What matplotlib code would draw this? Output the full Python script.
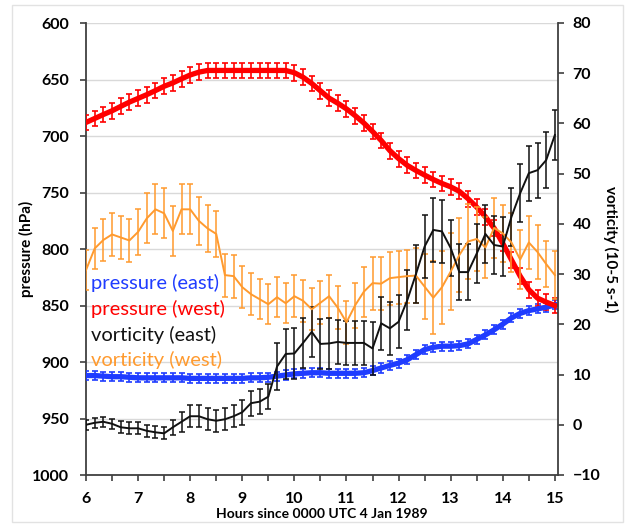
import matplotlib
matplotlib.use("Agg")
import matplotlib.pyplot as plt
from matplotlib.patches import Rectangle
import numpy as np

plt.rcParams['font.family'] = ['Lato', 'DejaVu Sans']

# time: every 10 minutes from 06 to 15 UTC
hours = [6 + i / 6 for i in range(55)]

pressure_east = [912, 912, 912.5, 913, 913, 913.5, 914, 914, 914, 914, 914, 914, 914.5, 914.5,
                 914.5, 914.5, 914.5, 914.5, 914.5, 914, 914, 913.5, 912.5, 911.5, 910.5, 910,
                 909.5, 909.5, 910, 910, 910, 910, 909.5, 907.6, 905.3, 903, 901, 898, 893.5,
                 889, 887, 886, 886, 885.5, 884, 880, 876, 871.5, 866.5, 861, 857, 854.5, 853,
                 851.5, 849.5]
pressure_east_err = [4] * 55

pressure_west = [688, 684.5, 681, 677.7, 673.8, 670, 666.7, 663.4, 659.8, 656, 653, 649.4, 646,
                 643.5, 642, 642, 642, 642, 642, 642, 642, 642, 642, 642, 644, 648, 653.5, 660,
                 666.5, 671, 676, 682, 688.5, 696, 704, 713, 720, 726, 730.5, 734.6, 738.5, 742,
                 745, 749, 755.5, 763, 771.5, 781.5, 795, 809.6, 824, 836, 843.5, 847, 850]
pressure_west_err = [7] * 55

vort_east = [0.0, 0.4, 0.6, 0.2, -0.5, -0.7, -0.7, -1.2, -1.5, -1.7, -0.5, 0.6, 1.7, 1.7, 1.1,
             0.8, 1.1, 1.7, 2.5, 4.3, 4.6, 5.6, 11.6, 14.1, 14.2, 16.3, 18.5, 16.1, 16.2, 16.5,
             16.3, 16.3, 16.3, 15.2, 20.2, 19.2, 20.5, 24.8, 30.0, 35.5, 38.8, 38.5, 35.2, 30.4,
             30.4, 34.1, 38.0, 35.8, 35.5, 41.4, 46.1, 50.1, 50.7, 52.7, 57.7]
vort_east_err = [1.0, 1.0, 1.0, 1.0, 1.2, 1.2, 1.2, 1.2, 1.2, 1.2, 1.5, 2.0, 2.2, 2.2, 2.2, 2.2,
                 2.2, 2.2, 2.5, 2.5, 2.5, 2.5, 4.6, 5.0, 5.0, 5.0, 5.0, 5.0, 5.0, 4.3, 4.3, 4.3,
                 4.3, 5.3, 5.3, 5.3, 5.3, 6.0, 5.8, 6.3, 6.3, 6.3, 5.5, 5.5, 5.5, 5.8, 5.8, 5.8,
                 5.8, 5.8, 5.8, 5.5, 5.5, 5.5, 5.0]

vort_west = [30.8, 35.1, 36.8, 37.9, 37.3, 36.7, 38.4, 41.1, 42.9, 42.1, 38.6, 42.9, 42.9, 40.6,
             39.1, 38.0, 29.8, 29.6, 27.4, 26.0, 25.0, 24.0, 25.4, 24.2, 25.6, 24.7, 23.0, 24.3,
             25.6, 23.3, 20.4, 23.8, 26.5, 28.2, 28.1, 29.2, 29.4, 29.6, 29.7, 27.5, 25.3, 27.4,
             30.5, 33.8, 36.5, 37.0, 35.3, 39.2, 38.1, 36.3, 32.9, 36.3, 34.4, 32.0, 29.8]
vort_west_err = [4.0, 4.0, 4.2, 4.2, 4.2, 4.2, 4.5, 5.0, 5.0, 5.0, 5.0, 5.0, 5.0, 4.8, 4.6, 4.5,
                 4.3, 4.3, 4.2, 4.2, 4.0, 4.0, 4.0, 4.0, 4.2, 4.2, 4.2, 4.3, 4.3, 4.3, 4.3, 4.5,
                 5.0, 5.3, 5.3, 5.3, 5.3, 5.3, 5.5, 6.5, 7.3, 7.3, 7.6, 7.3, 7.4, 6.3, 6.0, 6.0,
                 5.6, 5.8, 5.8, 5.3, 5.3, 4.6, 4.8]

legend_labels = ["pressure (east)", "pressure (west)", "vorticity (east)", "vorticity (west)"]
colors = ["#1f3cff", "#ff0000", "#111111", "#ff9a2e"]

fig = plt.figure(figsize=(6.30, 5.26), dpi=100)
fig.patches.append(Rectangle((12 / 630, 1 - 522 / 526), (623 - 12) / 630, (522 - 5) / 526,
                             transform=fig.transFigure, fill=False, edgecolor="#e2e2e2",
                             linewidth=1.0))
ax = fig.add_axes([86 / 630, 1 - 475 / 526, (558 - 86) / 630, (475 - 23) / 526])
ax2 = ax.twinx()

ax.errorbar(hours, pressure_east, yerr=pressure_east_err, color=colors[0], lw=3.8,
            elinewidth=1.2, capsize=2.2, capthick=1.2, zorder=3)
ax.errorbar(hours, pressure_west, yerr=pressure_west_err, color=colors[1], lw=3.8,
            elinewidth=1.2, capsize=2.2, capthick=1.2, zorder=3)
ax2.errorbar(hours, vort_west, yerr=vort_west_err, color=colors[3], lw=1.4,
             elinewidth=1.1, capsize=2.2, capthick=1.1)
ax2.errorbar(hours, vort_east, yerr=vort_east_err, color=colors[2], lw=1.4,
             elinewidth=1.1, capsize=2.2, capthick=1.1)

ax.set_xlim(6, 15.06)
ax.set_ylim(1000, 600)
ax2.set_ylim(-10, 80)
ax.set_yticks(np.arange(600, 1001, 50))
ax2.set_yticks(np.arange(-10, 81, 10))
ax.set_xticks(np.arange(6, 15.01, 0.5))
ax.set_xticklabels([str(int(t)) if t == int(t) else "" for t in np.arange(6, 15.01, 0.5)])

ax.grid(axis="y", color="#d9d9d9", lw=1.0)
ax.set_axisbelow(True)

for a in (ax, ax2):
    a.spines["top"].set_visible(False)
    for s in ("left", "right", "bottom"):
        a.spines[s].set_color("#404040")
        a.spines[s].set_linewidth(1.3)
ax.spines["right"].set_visible(False)
ax2.spines["left"].set_visible(False)
ax2.spines["bottom"].set_visible(False)

ax.tick_params(axis="both", direction="out", length=4.5, width=1.2, color="#404040",
               labelsize=11.5)
ax.tick_params(axis="y", pad=8)
ax.tick_params(axis="x", pad=8)
ax2.tick_params(axis="y", direction="out", length=4.5, width=1.2, color="#404040",
                labelsize=11.5, pad=6)
for lbl in ax.get_xticklabels() + ax.get_yticklabels() + ax2.get_yticklabels():
    lbl.set_fontweight("bold")

ax.set_ylabel("pressure (hPa)", fontsize=11, fontweight="bold", labelpad=-2)
ax2.set_ylabel("vorticity (10-5 s-1)", fontsize=11, fontweight="bold", rotation=270,
               labelpad=13)
ax.set_xlabel("Hours since 0000 UTC 4 Jan 1989", fontsize=10, fontweight="bold", labelpad=1)

ys = [282.7, 308.5, 334.5, 360]
for lab, c, y in zip(legend_labels, colors, ys):
    fig.text(91 / 630, 1 - y / 526, lab, color=c, fontsize=14.5, va="center", ha="left")

fig.savefig("out.png", dpi=100)
